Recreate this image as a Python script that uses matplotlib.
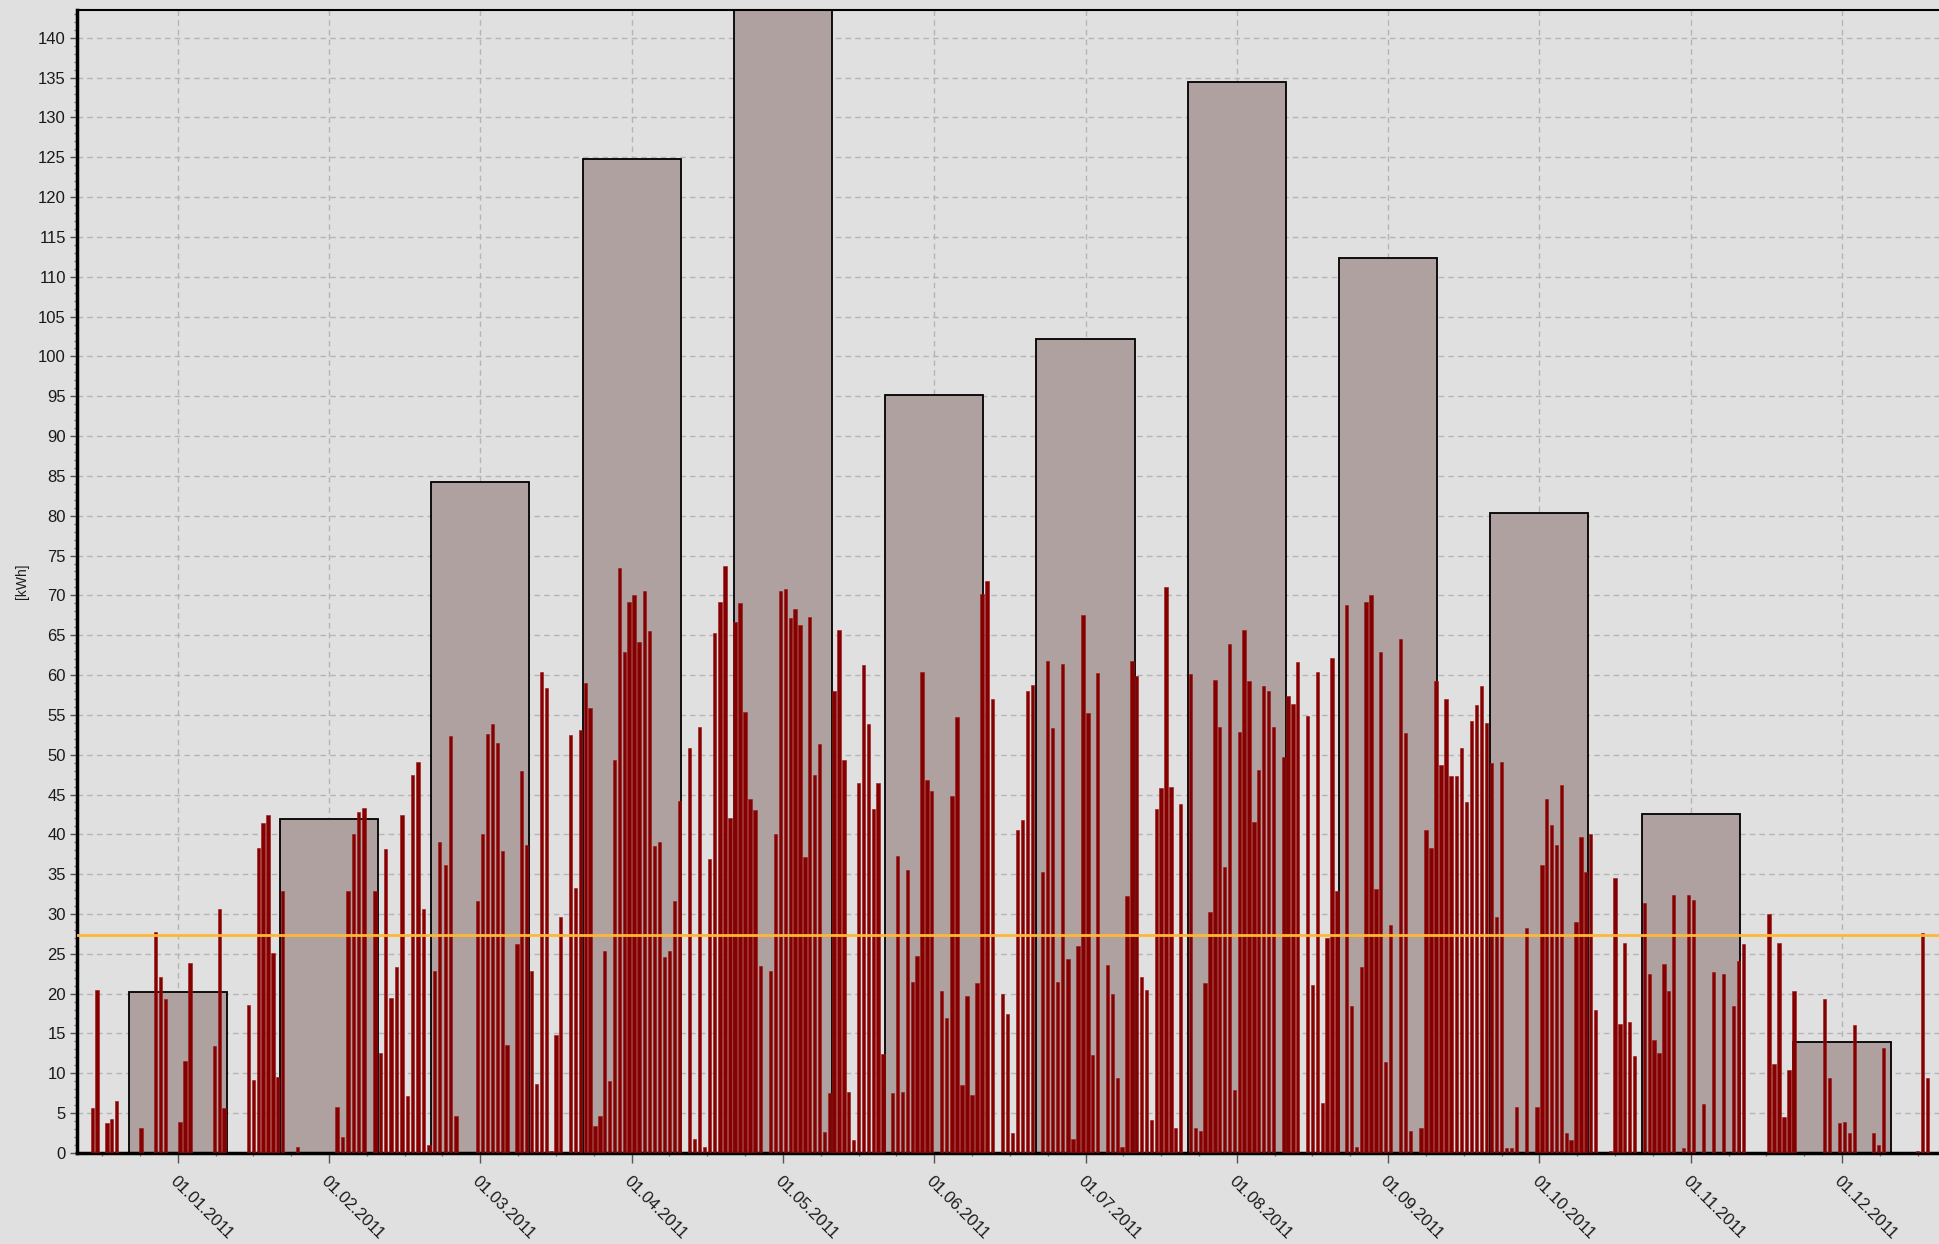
import calendar
import matplotlib
matplotlib.use('Agg')
import matplotlib.pyplot as plt
from matplotlib.ticker import MultipleLocator

# daily yield in kWh, one entry per calendar day (0 = no bar)
dec_2010 = [0, 0, 0, 0, 0, 0, 0, 0, 0, 0, 0, 0, 0, 5.7, 20.5, 0, 3.7, 4.3, 6.5, 0,
            0, 0, 0, 3.1, 0, 0, 27.8, 22.1, 19.3, 0, 0]
jan_2011 = [3.9, 11.6, 23.9, 0, 0, 0, 0, 13.4, 30.6, 5.7, 0, 0, 0, 0, 18.6, 9.1, 38.3,
            41.4, 42.4, 25.1, 9.5, 32.9, 0, 0, 0.8, 0, 0, 0, 0, 0, 0]
feb_2011 = [0, 5.8, 2.0, 32.9, 40.1, 42.8, 43.3, 0, 32.9, 12.5, 38.1, 19.5, 23.3, 42.4,
            7.1, 47.5, 49.1, 30.6, 1.0, 22.9, 39.1, 36.1, 52.3, 4.7, 0, 0, 0, 31.6]
mar_2011 = [40.0, 52.6, 53.9, 51.5, 37.9, 13.6, 0, 26.2, 47.9, 38.6, 22.9, 8.7, 60.4,
            58.4, 0.3, 14.8, 29.6, 0, 52.5, 33.3, 53.1, 59.0, 55.8, 3.4, 4.6, 25.4, 9.0,
            49.3, 73.5, 62.9, 69.2]
apr_2011 = [70.0, 64.1, 70.6, 65.5, 38.5, 39.1, 24.6, 25.4, 31.6, 44.2, 0, 50.9, 1.8,
            53.5, 0.8, 36.9, 65.3, 69.2, 73.7, 42.0, 66.7, 69.0, 55.4, 44.4, 43.0, 23.5,
            0, 22.9, 40.1, 70.6]
may_2011 = [70.8, 67.1, 68.3, 66.3, 37.1, 67.3, 47.4, 51.3, 2.6, 7.5, 58.0, 65.7, 49.3,
            7.7, 1.6, 46.4, 61.2, 53.9, 43.2, 46.4, 12.4, 0, 7.5, 37.3, 7.7, 35.5, 21.5,
            24.7, 60.4, 46.8, 45.4]
jun_2011 = [0, 20.3, 17.0, 44.8, 54.7, 8.5, 19.7, 7.3, 21.3, 70.2, 71.8, 57.0, 0, 20.0,
            17.4, 2.5, 40.6, 41.8, 58.0, 58.8, 0, 35.3, 61.8, 53.3, 21.5, 61.4, 24.3, 1.8,
            26.0, 67.5]
jul_2011 = [55.2, 12.3, 60.2, 0, 23.6, 19.9, 9.4, 0.8, 32.2, 61.7, 59.9, 22.1, 20.5, 4.1,
            43.2, 45.8, 71.0, 46.0, 3.1, 43.8, 0, 60.1, 3.1, 2.7, 21.3, 30.2, 59.4, 53.5,
            35.9, 63.9, 7.9]
aug_2011 = [52.9, 65.7, 59.2, 41.6, 48.1, 58.6, 58.0, 53.5, 0, 49.7, 57.4, 56.4, 61.6, 0,
            54.8, 21.1, 60.4, 6.3, 27.0, 62.1, 32.9, 0, 68.8, 18.5, 0.8, 23.3, 69.2, 70.0,
            33.1, 62.9, 11.4]
sep_2011 = [28.6, 0, 64.5, 52.7, 2.8, 0, 3.1, 40.6, 38.3, 59.2, 48.7, 57.0, 47.3, 47.3,
            50.9, 44.0, 54.2, 56.2, 58.6, 54.0, 48.9, 29.6, 49.1, 0.6, 0.6, 5.8, 0, 28.2,
            0, 5.8]
oct_2011 = [36.1, 44.4, 41.2, 38.7, 46.2, 2.5, 1.6, 29.0, 39.7, 35.3, 40.1, 18.0, 0, 0,
            0.3, 34.5, 16.2, 26.4, 16.4, 12.2, 0, 31.4, 22.5, 14.2, 12.5, 23.7, 20.3, 32.4,
            0, 0.6, 32.4]
nov_2011 = [31.8, 0, 6.1, 0, 22.7, 0, 22.5, 0, 18.5, 24.1, 26.2, 0, 0, 0, 0, 30.0, 11.2,
            26.4, 4.5, 10.4, 20.3, 0, 0, 0, 0, 0, 19.3, 9.4, 0, 3.7]
dec_2011 = [3.9, 2.5, 16.0, 0, 0, 0, 2.5, 1.0, 13.2, 0, 0, 0, 0, 0, 0, 0.3, 27.6, 9.4,
            0, 0, 0, 0, 0, 0, 0, 0, 0, 0, 0, 0, 0]

daily_months = [(2010, 12, dec_2010), (2011, 1, jan_2011), (2011, 2, feb_2011),
                (2011, 3, mar_2011), (2011, 4, apr_2011), (2011, 5, may_2011),
                (2011, 6, jun_2011), (2011, 7, jul_2011), (2011, 8, aug_2011),
                (2011, 9, sep_2011), (2011, 10, oct_2011), (2011, 11, nov_2011),
                (2011, 12, dec_2011)]

# monthly totals (May runs off the top of the chart)
monthly_kwh = [20.2, 41.9, 84.2, 124.8, 150.0, 95.1, 102.2, 134.4, 112.3, 80.3, 42.5, 13.9]
month_labels = ['01.01.2011', '01.02.2011', '01.03.2011', '01.04.2011', '01.05.2011',
                '01.06.2011', '01.07.2011', '01.08.2011', '01.09.2011', '01.10.2011',
                '01.11.2011', '01.12.2011']
reference_kwh = 27.3

plt.rcParams['font.family'] = ['Liberation Sans', 'DejaVu Sans']

# x axis in month units, 0 = 01.01.2011, every month the same width
day_x = []
day_y = []
for i, (yr, mo, vals) in enumerate(daily_months):
    ndays = calendar.monthrange(yr, mo)[1]
    for d, v in enumerate(vals):
        if v > 0:
            day_x.append(i - 1 + (d + 0.5) / ndays)
            day_y.append(v)

bg = '#e0e0e0'
fig = plt.figure(figsize=(19.39, 12.44), dpi=100, facecolor=bg)
ax = fig.add_axes([0.0397, 0.0732, 0.9603, 0.9188])
ax.set_facecolor(bg)
ax.set_axisbelow(True)

ax.bar(range(len(monthly_kwh)), monthly_kwh, width=0.648, color='#b0a1a1',
       edgecolor='black', linewidth=1.3, zorder=2)
ax.bar(day_x, day_y, width=0.022, color='#850000', edgecolor='#9a1515',
       linewidth=0.4, zorder=3)
ax.axhline(reference_kwh, color='#ffb733', linewidth=2, zorder=4)

ax.set_xlim(-0.6656, 11.641)
ax.set_ylim(0, 143.5)

ax.set_xticks(range(len(month_labels)))
ax.set_xticklabels(month_labels, rotation=-45, ha='left', va='top',
                   rotation_mode='anchor', fontsize=12, color='#1a1a1a')
ax.xaxis.set_minor_locator(MultipleLocator(0.25))
ax.yaxis.set_major_locator(MultipleLocator(5))
ax.yaxis.set_minor_locator(MultipleLocator(1))
ax.tick_params(axis='y', which='major', labelsize=12, labelcolor='#1a1a1a',
               length=5, width=1, color='#555555', direction='out', pad=3)
ax.tick_params(axis='x', which='major', length=7, width=1, color='#555555',
               direction='out', pad=8)
ax.tick_params(which='minor', length=2.5, width=1, color='#777777', direction='out')

ax.grid(True, which='major', linestyle=(0, (4, 3)), color='#b5b5b5', linewidth=1)

ax.spines['right'].set_visible(False)
ax.spines['top'].set_linewidth(1.5)
ax.spines['left'].set_linewidth(2.5)
ax.spines['bottom'].set_linewidth(2.5)
ax.spines['bottom'].set_linestyle((0, (3, 1)))

fig.text(0.0113, 0.533, '[kWh]', rotation=90, fontsize=10, ha='center', va='center',
         color='#1a1a1a')

fig.savefig('out.png', dpi=100, facecolor=bg)
